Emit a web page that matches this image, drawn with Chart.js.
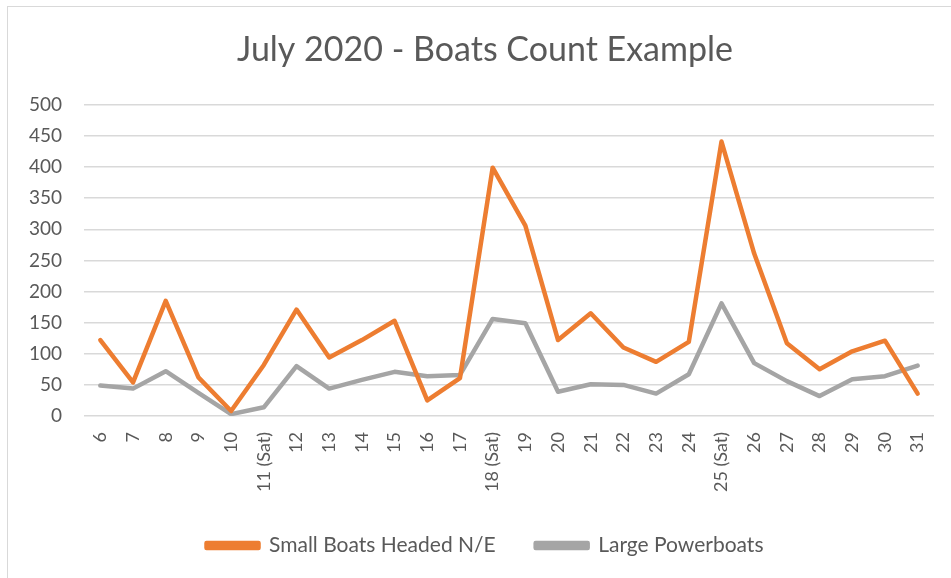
<!DOCTYPE html>
<html>
<head>
<meta charset="utf-8">
<script src="https://cdn.jsdelivr.net/npm/chart.js@4"></script>
<style>
  html, body { margin: 0; padding: 0; background: #fff; width: 951px; height: 578px; overflow: hidden; }
  #frame { position: absolute; left: 7px; top: 6px; width: 960px; height: 600px; border: 1px solid #d9d9d9; box-sizing: border-box; }
  #wrap { position: absolute; left: 0; top: 0; width: 951px; height: 578px; }
</style>
</head>
<body>
<div id="frame"></div>
<div id="wrap"><canvas id="c" width="951" height="578"></canvas></div>
<script>
const days = ['6','7','8','9','10','11 (Sat)','12','13','14','15','16','17','18 (Sat)','19','20','21','22','23','24','25 (Sat)','26','27','28','29','30','31'];
const smallBoats = [122, 54, 185, 62, 8, 82, 171, 94, 122, 153, 25, 61, 399, 306, 122, 165, 110, 87, 119, 441, 261, 117, 75, 104, 121, 36];
const largePowerboats = [49, 44, 72, 37, 3, 14, 80, 44, 58, 71, 64, 66, 156, 149, 39, 51, 50, 36, 67, 181, 85, 56, 32, 59, 64, 81];
const yTicks = [0, 50, 100, 150, 200, 250, 300, 350, 400, 450, 500];

const FONT = 'Lato, "Open Sans", sans-serif';
const TXT = '#595959';

new Chart(document.getElementById('c'), {
  type: 'line',
  data: {
    labels: days,
    datasets: [
      { label: 'Small Boats Headed N/E', data: smallBoats, borderColor: '#ED7D31', backgroundColor: '#ED7D31',
        borderWidth: 4.5, pointRadius: 0, tension: 0, borderCapStyle: 'round', borderJoinStyle: 'round' },
      { label: 'Large Powerboats', data: largePowerboats, borderColor: '#A5A5A5', backgroundColor: '#A5A5A5',
        borderWidth: 4.5, pointRadius: 0, tension: 0, borderCapStyle: 'round', borderJoinStyle: 'round' }
    ]
  },
  options: {
    responsive: false,
    animation: false,
    layout: { padding: { left: 19, right: 0, top: 0, bottom: 12 } },
    plugins: {
      title: {
        display: true,
        text: 'July 2020 - Boats Count Example',
        color: TXT,
        font: { family: FONT, size: 34, weight: 'normal' },
        padding: { top: 30, bottom: 34 }
      },
      legend: {
        position: 'bottom',
        labels: {
          color: TXT,
          font: { family: FONT, size: 21 },
          boxWidth: 52,
          boxHeight: 5,
          padding: 40
        }
      },
      tooltip: { enabled: false }
    },
    scales: {
      x: {
        offset: true,
        grid: { display: false },
        border: { display: false },
        ticks: { color: TXT, font: { family: FONT, size: 18 }, minRotation: 90, maxRotation: 90, autoSkip: false, padding: 8 },
        afterFit: (s) => { s.height = 79; }
      },
      y: {
        min: 0, max: 500,
        afterBuildTicks: (s) => { s.ticks = yTicks.map(v => ({ value: v })); },
        grid: { color: '#d9d9d9', lineWidth: 1.5, drawTicks: false },
        border: { display: false },
        ticks: { color: TXT, font: { family: FONT, size: 19 }, padding: 22 },
        afterFit: (s) => { s.width = 65; }
      },
      y2: {
        position: 'right',
        display: true,
        grid: { display: false },
        border: { display: false },
        ticks: { display: false },
        afterFit: (s) => { s.width = 17; }
      }
    }
  }
});
</script>
</body>
</html>
